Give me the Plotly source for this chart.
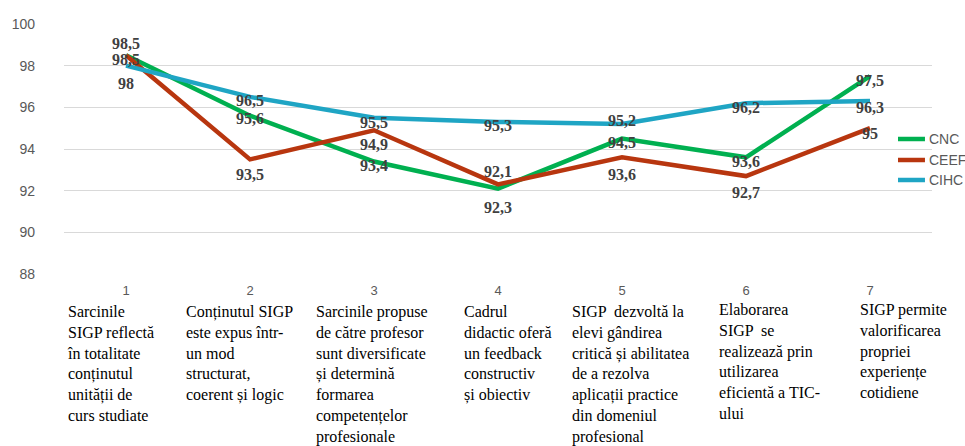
import plotly.graph_objects as go

categories = [1, 2, 3, 4, 5, 6, 7]
tick_text = ["1", "2", "3", "4", "5", "6", "7"]
cnc = [98.5, 95.6, 93.4, 92.1, 94.5, 93.6, 97.5]
ceef = [98.5, 93.5, 94.9, 92.3, 93.6, 92.7, 95.0]
cihc = [98.0, 96.5, 95.5, 95.3, 95.2, 96.2, 96.3]
series_names = ["CNC", "CEEF", "CIHC"]
category_text = [
    "Sarcinile<br>SIGP reflectă<br>în totalitate<br>conținutul<br>unității de<br>curs studiate",
    "Conținutul SIGP<br>este expus într-<br>un mod<br>structurat,<br>coerent și logic",
    "Sarcinile propuse<br>de către profesor<br>sunt diversificate<br>și determină<br>formarea<br>competențelor<br>profesionale",
    "Cadrul<br>didactic oferă<br>un feedback<br>constructiv<br>și obiectiv",
    "SIGP  dezvoltă la<br>elevi gândirea<br>critică și abilitatea<br>de a rezolva<br>aplicații practice<br>din domeniul<br>profesional",
    "Elaborarea<br>SIGP  se<br>realizează prin<br>utilizarea<br>eficientă a TIC-<br>ului",
    "SIGP permite<br>valorificarea<br>propriei<br>experiențe<br>cotidiene",
]

# styles
colors = ["#00B050", "#B8360F", "#1FA5C4"]
label_shifts = [
    [12, -3, -4, 17, -4, -4, -4],
    [-4, -15, -14, -23, -17, -16, -5],
    [-18, -4, -5, -4, 4, -4, -6],
]
cat_left = [0.51, 1.47, 2.52, 3.71, 4.58, 5.77, 6.90]
cat_dy = [0, 0, 0, 0, 0, 2, 2]
legend_y = [0.54, 0.456, 0.376]

fig = go.Figure()
annotations = []
shapes = []
for k, (name, vals) in enumerate(zip(series_names, [cnc, ceef, cihc])):
    fig.add_trace(go.Scatter(x=categories, y=vals, mode="lines", name=name,
                             line=dict(color=colors[k], width=4.5),
                             showlegend=False))
    for xv, yv, s in zip(categories, vals, label_shifts[k]):
        annotations.append(dict(
            x=xv, y=yv, xref="x", yref="y", showarrow=False,
            text="<b>" + f"{yv:g}".replace(".", ",") + "</b>", yshift=s,
            font=dict(family="Liberation Serif", size=16, color="#404040"),
            xanchor="center", yanchor="middle"))
    # legend entry
    shapes.append(dict(type="line", xref="paper", yref="paper",
                       x0=0.9608, x1=0.9919, y0=legend_y[k], y1=legend_y[k],
                       line=dict(color=colors[k], width=4.5)))
    annotations.append(dict(
        x=0.9942, y=legend_y[k], xref="paper", yref="paper", showarrow=False,
        text=name, xanchor="left", yanchor="middle",
        font=dict(family="Liberation Sans", size=14, color="#595959")))

for i, txt in enumerate(category_text):
    annotations.append(dict(
        x=cat_left[i], y=0, xref="x", yref="paper", showarrow=False,
        text=txt, align="left", xanchor="left", yanchor="top",
        yshift=-27 + cat_dy[i],
        font=dict(family="Liberation Serif", size=16, color="#000000")))

fig.update_layout(
    width=965, height=446,
    margin=dict(l=64, r=33, t=24, b=172, autoexpand=False),
    paper_bgcolor="white", plot_bgcolor="white",
    showlegend=False,
    annotations=annotations,
    shapes=shapes,
    xaxis=dict(range=[0.5, 7.5], tickvals=categories, ticktext=tick_text,
               showgrid=False, zeroline=False, showline=False,
               tickfont=dict(family="Liberation Sans", size=13, color="#595959"),
               ticks="", ticklabelstandoff=7),
    yaxis=dict(range=[88, 100], dtick=2, showgrid=True, gridcolor="#D9D9D9",
               gridwidth=1, zeroline=False, showline=False,
               tickfont=dict(family="Liberation Sans", size=14, color="#595959"),
               ticklabelstandoff=28, ticks=""),
)

fig.write_html("out.html", config={"displayModeBar": False},
               post_script="document.body.style.margin='0';document.body.style.overflow='hidden';")
